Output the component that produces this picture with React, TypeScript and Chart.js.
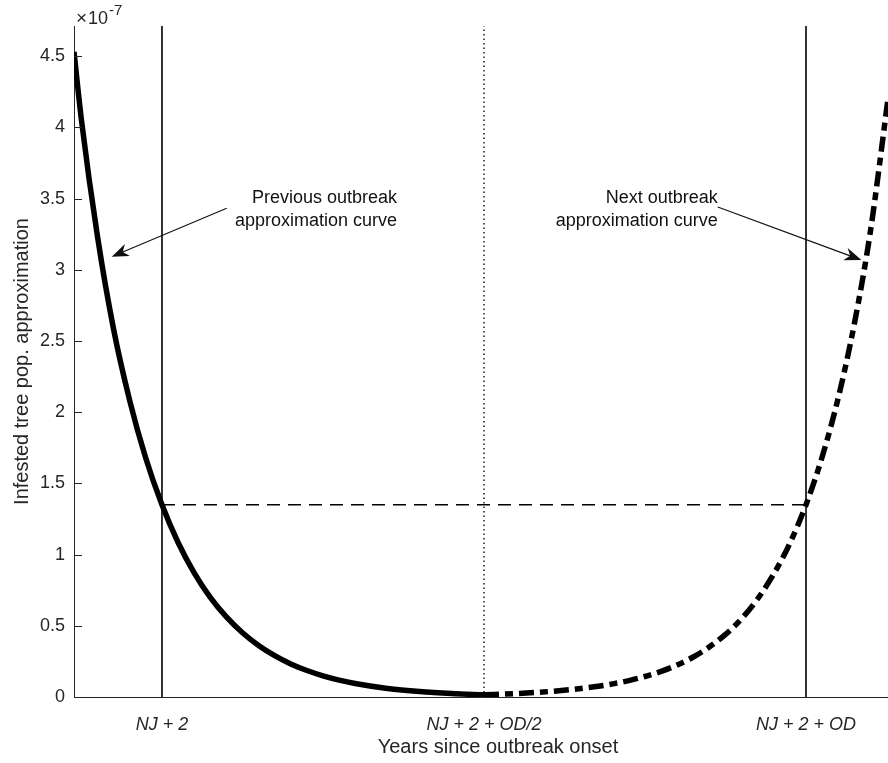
import React, { useEffect, useRef } from 'react';
import { Chart, registerables } from 'chart.js';

Chart.register(...registerables);

const FONT = "'Liberation Sans', Arial, Helvetica, sans-serif";
const INK = '#262626';

// Previous outbreak approximation curve (values in units of 1e-7)
const prevX = [-0.1366, -0.125, -0.1, -0.075, -0.05, -0.025, 0, 0.025, 0.05, 0.075, 0.1, 0.125, 0.15, 0.175, 0.2, 0.225, 0.25, 0.275, 0.3, 0.35, 0.4, 0.45, 0.5];
const prevY = [4.53, 4.05, 3.23, 2.58, 2.08, 1.675, 1.35, 1.085, 0.872, 0.7, 0.562, 0.451, 0.362, 0.29, 0.232, 0.186, 0.149, 0.119, 0.095, 0.06, 0.038, 0.024, 0.015];

// Next outbreak approximation curve
const nextX = [0.5, 0.55, 0.6, 0.65, 0.7, 0.725, 0.75, 0.775, 0.8, 0.825, 0.85, 0.875, 0.9, 0.925, 0.95, 0.975, 1.0, 1.025, 1.05, 1.075, 1.1, 1.1273];
const nextY = [0.015, 0.024, 0.038, 0.059, 0.092, 0.115, 0.144, 0.18, 0.225, 0.281, 0.352, 0.44, 0.55, 0.69, 0.865, 1.08, 1.35, 1.685, 2.1, 2.62, 3.27, 4.2];

const thresholdY = 1.35;
const markerX = [0, 0.5, 1];
const xTickLabels = ['NJ + 2', 'NJ + 2 + OD/2', 'NJ + 2 + OD'];
const yTickValues = [0, 0.5, 1, 1.5, 2, 2.5, 3, 3.5, 4, 4.5];
const yTickLabels = ['0', '0.5', '1', '1.5', '2', '2.5', '3', '3.5', '4', '4.5'];
const xMin = -0.1366;
const xMax = 1.1273;
const yMin = 0;
const yMax = 4.712;
const yExponent = '-7';
const xTitle = 'Years since outbreak onset';
const yTitle = 'Infested tree pop. approximation';

const noteLines = [
  ['Previous outbreak', 'approximation curve'],
  ['Next outbreak', 'approximation curve'],
];
const noteRightX = [0.365, 0.863];
const noteTopY = [3.504, 3.504];
const arrowFromX = [0.1005, 0.863];
const arrowFromY = [3.432, 3.441];
const arrowToX = [-0.078, 1.086];
const arrowToY = [3.092, 3.069];

function drawArrow(ctx: CanvasRenderingContext2D, x1: number, y1: number, x2: number, y2: number) {
  const ang = Math.atan2(y2 - y1, x2 - x1);
  const ux = Math.cos(ang), uy = Math.sin(ang);
  const nx = -uy, ny = ux;
  const L = 17, W = 6.5, N = 12;
  ctx.beginPath();
  ctx.moveTo(x1, y1);
  ctx.lineTo(x2 - ux * N, y2 - uy * N);
  ctx.stroke();
  ctx.beginPath();
  ctx.moveTo(x2, y2);
  ctx.lineTo(x2 - ux * L + nx * W, y2 - uy * L + ny * W);
  ctx.lineTo(x2 - ux * N, y2 - uy * N);
  ctx.lineTo(x2 - ux * L - nx * W, y2 - uy * L - ny * W);
  ctx.closePath();
  ctx.fill();
}

const overlayPlugin = {
  id: 'overlay',
  afterDraw(chart: any) {
    const { ctx, chartArea } = chart;
    const x = chart.scales.x;
    const y = chart.scales.y;
    ctx.save();
    // inward tick marks
    ctx.strokeStyle = INK;
    ctx.lineWidth = 1;
    y.ticks.forEach((t: any) => {
      const py = Math.round(y.getPixelForValue(t.value)) + 0.5;
      ctx.beginPath();
      ctx.moveTo(chartArea.left, py);
      ctx.lineTo(chartArea.left + 8, py);
      ctx.stroke();
    });
    // exponent label
    ctx.fillStyle = INK;
    ctx.textBaseline = 'alphabetic';
    ctx.textAlign = 'left';
    ctx.font = `19px ${FONT}`;
    let ex = chartArea.left + 2;
    ctx.fillText('\u00d7', ex, 24);
    ex += ctx.measureText('\u00d7').width + 1;
    ctx.font = `18px ${FONT}`;
    ctx.fillText('10', ex, 24);
    ex += ctx.measureText('10').width + 1;
    ctx.font = `15px ${FONT}`;
    ctx.fillText(yExponent, ex, 15);
    // x title
    ctx.font = `20px ${FONT}`;
    ctx.textAlign = 'center';
    ctx.textBaseline = 'middle';
    ctx.fillText(xTitle, 498, 747);
    // annotations
    ctx.fillStyle = '#111';
    ctx.strokeStyle = '#111';
    ctx.lineWidth = 1.2;
    ctx.font = `18px ${FONT}`;
    ctx.textAlign = 'right';
    ctx.textBaseline = 'middle';
    noteLines.forEach((lines, i) => {
      const px = x.getPixelForValue(noteRightX[i]);
      const py = y.getPixelForValue(noteTopY[i]);
      lines.forEach((ln, j) => ctx.fillText(ln, px, py + j * 23));
      drawArrow(
        ctx,
        x.getPixelForValue(arrowFromX[i]),
        y.getPixelForValue(arrowFromY[i]),
        x.getPixelForValue(arrowToX[i]),
        y.getPixelForValue(arrowToY[i])
      );
    });
    ctx.restore();
  },
};

export default function App() {
  const ref = useRef<HTMLCanvasElement | null>(null);
  useEffect(() => {
    if (!ref.current) return;
    const pts = (xs: number[], ys: number[]) => xs.map((v, i) => ({ x: v, y: ys[i] }));
    const vline = (xv: number) => [{ x: xv, y: yMin }, { x: xv, y: yMax }];
    const chart = new Chart(ref.current, {
      type: 'line',
      data: {
        datasets: [
          { data: vline(markerX[0]), borderColor: '#000', borderWidth: 1.6, pointRadius: 0 },
          { data: vline(markerX[2]), borderColor: '#000', borderWidth: 1.6, pointRadius: 0 },
          { data: vline(markerX[1]), borderColor: '#000', borderWidth: 1.3, borderDash: [1.5, 3], pointRadius: 0 },
          {
            data: [{ x: markerX[0], y: thresholdY }, { x: markerX[2], y: thresholdY }],
            borderColor: '#000', borderWidth: 1.4, borderDash: [13, 8], pointRadius: 0,
          },
          {
            data: pts(prevX, prevY), borderColor: '#000', borderWidth: 5.5, pointRadius: 0,
            cubicInterpolationMode: 'monotone', borderCapStyle: 'butt', borderJoinStyle: 'round',
          },
          {
            data: pts(nextX, nextY), borderColor: '#000', borderWidth: 5.5, pointRadius: 0,
            cubicInterpolationMode: 'monotone', borderDash: [15, 6, 8, 6], borderCapStyle: 'butt',
          },
        ] as any,
      },
      options: {
        animation: false,
        responsive: false,
        maintainAspectRatio: false,
        devicePixelRatio: 1,
        layout: { padding: { top: 26, left: 0, right: 0, bottom: 0 } },
        plugins: { legend: { display: false }, tooltip: { enabled: false } },
        events: [],
        scales: {
          x: {
            type: 'linear',
            min: xMin,
            max: xMax,
            afterBuildTicks: (s: any) => { s.ticks = markerX.map((v) => ({ value: v })); },
            afterFit: (s: any) => { s.height = 66; },
            ticks: {
              callback: (v: any) => xTickLabels[markerX.indexOf(Number(v))],
              font: { family: FONT, size: 18, style: 'italic' },
              color: INK,
              padding: 17,
              maxRotation: 0,
              autoSkip: false,
            },
            grid: { display: false, drawTicks: false },
            border: { display: true, color: INK, width: 1 },
          },
          y: {
            type: 'linear',
            min: yMin,
            max: yMax,
            afterBuildTicks: (s: any) => { s.ticks = yTickValues.map((v) => ({ value: v })); },
            afterFit: (s: any) => { s.width = 74; },
            ticks: {
              callback: (v: any) => yTickLabels[yTickValues.indexOf(Number(v))],
              font: { family: FONT, size: 18 },
              color: INK,
              padding: 9,
              autoSkip: false,
            },
            grid: { display: false, drawTicks: false },
            border: { display: true, color: INK, width: 1 },
            title: {
              display: true,
              text: yTitle,
              font: { family: FONT, size: 20 },
              color: INK,
              padding: { top: 10, bottom: 0 },
            },
          },
        },
      } as any,
      plugins: [overlayPlugin],
    });
    return () => chart.destroy();
  }, []);
  return (
    <div style={{ position: 'absolute', left: 0, top: 0, width: 888, height: 763, background: '#fff' }}>
      <canvas ref={ref} width={888} height={763} style={{ display: 'block', width: 888, height: 763 }} />
    </div>
  );
}
